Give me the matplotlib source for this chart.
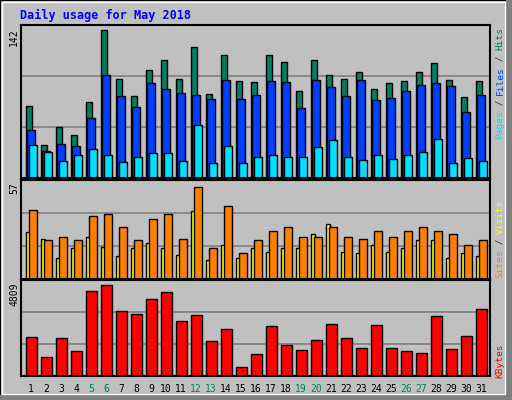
import matplotlib
matplotlib.use("Agg")
import matplotlib.pyplot as plt
from matplotlib.patches import Rectangle

days = list(range(1, 32))
weekends = [5, 6, 12, 13, 19, 20, 26, 27]
hits = [69,32,49,41,73,142,95,79,104,113,95,126,81,118,93,92,118,111,83,113,99,95,102,85,91,93,102,110,94,78,93]
files = [46,26,33,31,58,99,79,68,91,85,82,80,76,94,76,80,93,92,67,94,87,79,94,75,77,83,89,91,88,63,80]
pages = [32,25,16,22,28,22,15,20,24,24,16,51,14,31,14,20,22,20,20,30,36,20,17,22,18,22,25,37,14,19,16]
visits = [29,25,13,19,26,20,14,19,22,19,15,42,12,21,13,19,17,19,19,28,34,17,16,21,17,19,24,24,13,16,14]
sites = [43,24,26,24,39,40,32,24,37,40,25,57,19,45,16,24,30,32,26,26,32,26,25,30,26,30,32,30,28,21,24]
kbytes = [2071,1018,2018,1334,4493,4809,3440,3282,4072,4440,2913,3229,1860,2492,491,1176,2650,1650,1387,1913,2755,2018,1492,2703,1492,1334,1229,3177,1439,2124,3545]
max_hits, max_visits, max_kb = 142, 57, 4809

W, H = 512, 400
BG = "#C0C0C0"
fig = plt.figure(figsize=(W/100, H/100), dpi=100, facecolor=BG)
fig.patches.append(Rectangle((0, 0), 1, 1, transform=fig.transFigure, fill=False, ec="black", lw=1.5))
fig.patches.append(Rectangle((506/W, 0), 6/W, 1, transform=fig.transFigure, fc="#808080", ec="none"))
fig.patches.append(Rectangle((0, 0), 1, 5/H, transform=fig.transFigure, fc="#808080", ec="none"))
fig.patches.append(Rectangle((2/W, 6/H), 503/W, 392/H, transform=fig.transFigure, fill=False, ec="white", lw=1))

mono = "DejaVu Sans Mono"
fig.text(20/W, 1-15/H, "Daily usage for May 2018", color="#0000FF", fontsize=8.5,
         fontweight="bold", family=mono, va="center", ha="left")

def mk_axes(top, bottom):
    ax = fig.add_axes([21/W, 1-bottom/H, 469/W, (bottom-top)/H])
    ax.set_facecolor(BG)
    ax.set_xlim(21, 490)
    for s in ax.spines.values():
        s.set_linewidth(1.5)
    ax.set_xticks([]); ax.set_yticks([])
    for f in (1/3, 2/3):
        ax.axhline(f*ax.get_ylim()[1] if False else 0, lw=0)
    return ax

def grid(ax, top):
    ax.set_ylim(0, top)
    for f in (1/3, 2/3):
        ax.axhline(top*f, color="#808080", lw=1.2, zorder=0)

x0 = [25.7 + 15*(d-1) for d in days]
kw = dict(align="edge", edgecolor="black", linewidth=1, zorder=2)

ax1 = mk_axes(25, 178)
grid(ax1, max_hits*153/148)
ax1.bar([x for x in x0], hits, width=6.6, color="#008060", **kw)
ax1.bar([x+1.6 for x in x0], files, width=7.3, color="#0040FF", **kw)
ax1.bar([x+3.6 for x in x0], pages, width=7.3, color="#00E0FF", **kw)

ax2 = mk_axes(180, 279)
grid(ax2, max_visits*99/92)
ax2.bar(x0, visits, width=3.8, color="#FFFF00", **kw)
ax2.bar([x+3.6 for x in x0], sites, width=7.3, color="#FF8000", **kw)

ax3 = mk_axes(280, 376)
grid(ax3, max_kb*96/91)
ax3.bar([x+0.6 for x in x0], kbytes, width=10.4, color="#FF0000", **kw)

for d, x in zip(days, x0):
    fig.text((x+5.5)/W, 1-389/H, str(d), fontsize=7, family=mono, ha="center", va="center",
             color="#008060" if d in weekends else "black")

for lab, ytop in (("142", 28), ("57", 182), ("4809", 282)):
    fig.text(14/W, 1-ytop/H, lab, rotation=90, fontsize=7, family=mono, ha="center", va="top")

def vlabel(pieces, ybottom, cw=5.5):
    y = ybottom
    for txt, col in pieces:
        n = len(txt)
        fig.text(500/W, 1-(y - n*cw/2)/H, txt, rotation=90, color=col, fontsize=6.8,
                 family=mono, ha="center", va="center")
        y -= n*cw

vlabel([("Pages", "#00E0FF"), (" / ", "#404040"), ("Files", "#0040FF"), (" / ", "#404040"), ("Hits", "#008060")], 138)
vlabel([("Sites", "#FF8000"), (" / ", "#404040"), ("Visits", "#FFFF00")], 277)
vlabel([("KBytes", "#FF0000")], 377)

fig.savefig("out.png", dpi=100, facecolor=BG)
